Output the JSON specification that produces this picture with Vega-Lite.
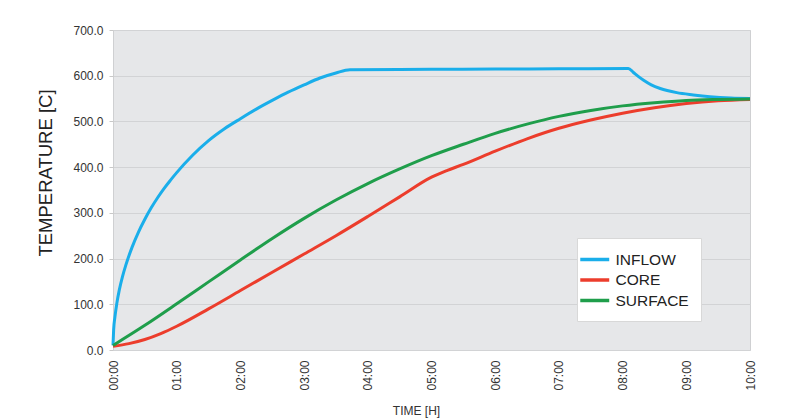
{
  "$schema": "https://vega.github.io/schema/vega-lite/v6.json",
  "width": 637,
  "height": 320,
  "autosize": {"type": "none"},
  "padding": {"left": 113, "top": 30, "right": 35, "bottom": 68},
  "background": "white",
  "config": {
    "font": "Liberation Sans",
    "view": {"fill": "#e6e7e9", "stroke": "#cfd0d2", "strokeWidth": 1}
  },
  "data": {
    "values": [
      {"t": 0, "temp": 10, "series": "INFLOW"},
      {"t": 0.01, "temp": 44, "series": "INFLOW"},
      {"t": 0.03, "temp": 72, "series": "INFLOW"},
      {"t": 0.06, "temp": 102, "series": "INFLOW"},
      {"t": 0.1, "temp": 132, "series": "INFLOW"},
      {"t": 0.15, "temp": 161, "series": "INFLOW"},
      {"t": 0.2, "temp": 185, "series": "INFLOW"},
      {"t": 0.3, "temp": 225, "series": "INFLOW"},
      {"t": 0.4, "temp": 258, "series": "INFLOW"},
      {"t": 0.5, "temp": 286, "series": "INFLOW"},
      {"t": 0.6, "temp": 311, "series": "INFLOW"},
      {"t": 0.7, "temp": 333, "series": "INFLOW"},
      {"t": 0.8, "temp": 353, "series": "INFLOW"},
      {"t": 0.9, "temp": 371, "series": "INFLOW"},
      {"t": 1.0, "temp": 388, "series": "INFLOW"},
      {"t": 1.25, "temp": 426, "series": "INFLOW"},
      {"t": 1.5, "temp": 458, "series": "INFLOW"},
      {"t": 1.75, "temp": 484, "series": "INFLOW"},
      {"t": 2.0, "temp": 506, "series": "INFLOW"},
      {"t": 2.25, "temp": 527, "series": "INFLOW"},
      {"t": 2.5, "temp": 546, "series": "INFLOW"},
      {"t": 2.75, "temp": 564, "series": "INFLOW"},
      {"t": 3.0, "temp": 580, "series": "INFLOW"},
      {"t": 3.25, "temp": 595, "series": "INFLOW"},
      {"t": 3.5, "temp": 606, "series": "INFLOW"},
      {"t": 3.72, "temp": 613, "series": "INFLOW"},
      {"t": 5.0, "temp": 614, "series": "INFLOW"},
      {"t": 6.0, "temp": 614.5, "series": "INFLOW"},
      {"t": 7.0, "temp": 615, "series": "INFLOW"},
      {"t": 8.09, "temp": 616, "series": "INFLOW"},
      {"t": 8.17, "temp": 607, "series": "INFLOW"},
      {"t": 8.24, "temp": 599, "series": "INFLOW"},
      {"t": 8.33, "temp": 590, "series": "INFLOW"},
      {"t": 8.45, "temp": 580, "series": "INFLOW"},
      {"t": 8.59, "temp": 572, "series": "INFLOW"},
      {"t": 8.85, "temp": 563, "series": "INFLOW"},
      {"t": 9.11, "temp": 558, "series": "INFLOW"},
      {"t": 9.37, "temp": 554, "series": "INFLOW"},
      {"t": 9.7, "temp": 551, "series": "INFLOW"},
      {"t": 10.0, "temp": 550, "series": "INFLOW"},
      {"t": 0, "temp": 8, "series": "CORE"},
      {"t": 0.25, "temp": 14, "series": "CORE"},
      {"t": 0.5, "temp": 23, "series": "CORE"},
      {"t": 0.75, "temp": 36, "series": "CORE"},
      {"t": 1.0, "temp": 52, "series": "CORE"},
      {"t": 1.5, "temp": 90, "series": "CORE"},
      {"t": 2.0, "temp": 130, "series": "CORE"},
      {"t": 2.5, "temp": 170, "series": "CORE"},
      {"t": 3.0, "temp": 210, "series": "CORE"},
      {"t": 3.5, "temp": 250, "series": "CORE"},
      {"t": 4.0, "temp": 292, "series": "CORE"},
      {"t": 4.5, "temp": 335, "series": "CORE"},
      {"t": 5.0, "temp": 378, "series": "CORE"},
      {"t": 5.25, "temp": 393, "series": "CORE"},
      {"t": 5.5, "temp": 406, "series": "CORE"},
      {"t": 6.0, "temp": 435, "series": "CORE"},
      {"t": 6.5, "temp": 462, "series": "CORE"},
      {"t": 7.0, "temp": 485, "series": "CORE"},
      {"t": 7.5, "temp": 503, "series": "CORE"},
      {"t": 8.0, "temp": 518, "series": "CORE"},
      {"t": 8.5, "temp": 530, "series": "CORE"},
      {"t": 9.0, "temp": 539, "series": "CORE"},
      {"t": 9.5, "temp": 545, "series": "CORE"},
      {"t": 10.0, "temp": 548, "series": "CORE"},
      {"t": 0, "temp": 10, "series": "SURFACE"},
      {"t": 0.5, "temp": 54, "series": "SURFACE"},
      {"t": 1.0, "temp": 101, "series": "SURFACE"},
      {"t": 1.5, "temp": 149, "series": "SURFACE"},
      {"t": 2.0, "temp": 197, "series": "SURFACE"},
      {"t": 2.5, "temp": 244, "series": "SURFACE"},
      {"t": 3.0, "temp": 288, "series": "SURFACE"},
      {"t": 3.5, "temp": 328, "series": "SURFACE"},
      {"t": 4.0, "temp": 364, "series": "SURFACE"},
      {"t": 4.5, "temp": 396, "series": "SURFACE"},
      {"t": 5.0, "temp": 425, "series": "SURFACE"},
      {"t": 5.5, "temp": 450, "series": "SURFACE"},
      {"t": 6.0, "temp": 474, "series": "SURFACE"},
      {"t": 6.5, "temp": 494, "series": "SURFACE"},
      {"t": 7.0, "temp": 511, "series": "SURFACE"},
      {"t": 7.5, "temp": 524, "series": "SURFACE"},
      {"t": 8.0, "temp": 534, "series": "SURFACE"},
      {"t": 8.5, "temp": 541, "series": "SURFACE"},
      {"t": 9.0, "temp": 546, "series": "SURFACE"},
      {"t": 9.5, "temp": 548, "series": "SURFACE"},
      {"t": 10.0, "temp": 549, "series": "SURFACE"}
    ]
  },
  "mark": {"type": "line", "strokeWidth": 3, "interpolate": "monotone"},
  "encoding": {
    "x": {
      "field": "t",
      "type": "quantitative",
      "scale": {"domain": [0, 10], "nice": false, "zero": false},
      "axis": {
        "title": "TIME [H]",
        "titleFontSize": 12,
        "titleFontWeight": "normal",
        "titleColor": "#333333",
        "titleX": 303,
        "titleBaseline": "top",
        "titlePadding": 15,
        "values": [0, 1, 2, 3, 4, 5, 6, 7, 8, 9, 10],
        "labelExpr": "(datum.value < 10 ? '0' : '') + datum.value + ':00'",
        "labelAngle": 270,
        "labelAlign": "right",
        "labelBaseline": "middle",
        "labelFontSize": 12,
        "labelColor": "#333333",
        "labelPadding": 10,
        "labelFlush": false,
        "labelOverlap": false,
        "ticks": false,
        "domain": false,
        "grid": false
      }
    },
    "y": {
      "field": "temp",
      "type": "quantitative",
      "scale": {"domain": [0, 700], "nice": false},
      "axis": {
        "title": "TEMPERATURE [C]",
        "titleFontSize": 18.5,
        "titleFontWeight": "normal",
        "titleColor": "#222222",
        "titlePadding": 17,
        "titleY": 142.5,
        "values": [0, 100, 200, 300, 400, 500, 600, 700],
        "format": ".1f",
        "labelFontSize": 12,
        "labelColor": "#333333",
        "labelPadding": 6,
        "tickSize": 4,
        "tickColor": "#c8c8c8",
        "domain": false,
        "grid": true,
        "gridColor": "#d2d3d5",
        "gridWidth": 1.2
      }
    },
    "color": {
      "field": "series",
      "type": "nominal",
      "sort": ["INFLOW", "CORE", "SURFACE"],
      "scale": {
        "domain": ["INFLOW", "CORE", "SURFACE"],
        "range": ["#1aaeea", "#ec3d2c", "#1f9e4b"]
      },
      "legend": {
        "title": null,
        "orient": "none",
        "legendX": 464,
        "legendY": 208,
        "fillColor": "white",
        "strokeColor": "#d8d8d8",
        "padding": 12,
        "symbolType": "M-2.43,0L1.43,0",
        "symbolSize": 225,
        "symbolStrokeWidth": 3.5,
        "labelFontSize": 15.5,
        "labelColor": "#222222",
        "labelOffset": 7.5,
        "rowPadding": 2.5
      }
    }
  }
}
